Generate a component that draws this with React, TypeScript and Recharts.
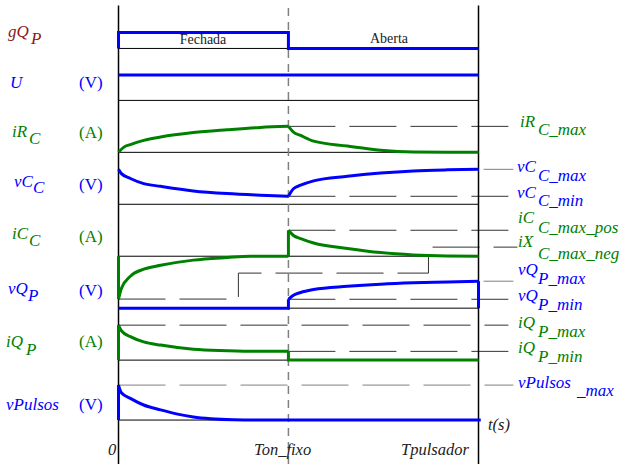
import { ComposedChart, Line, XAxis, YAxis } from "recharts"

// time in units of Tpulsador
const T_ON = 0.472
const T_REF_END = 1.083
const T_SHORT_START = 1.014
const T_SHORT_END = 1.097

// gQP (1 = closed)
const gqpT = [0, 0, T_ON, T_ON, 1]
const gqpV = [0, 1, 1, 0, 0]

const uT = [0, 1]
const uV = [1, 1]

// iRC, fraction of iRC_max
const irOnT = [0, 0.015, 0.033, 0.07, 0.117, 0.208, 0.302, 0.394, T_ON]
const irOnV = [0, 0.2, 0.3, 0.46, 0.59, 0.76, 0.87, 0.96, 1]
const irOffT = [T_ON, 0.486, 0.506, 0.542, 0.636, 0.728, 0.819, 0.914, 1]
const irOffV = [1, 0.78, 0.65, 0.43, 0.24, 0.08, 0.01, 0, 0]

// vCC, 0 = vC_min, 1 = vC_max
const vcOnT = [0, 0.008, 0.033, 0.07, 0.117, 0.208, 0.302, 0.394, T_ON]
const vcOnV = [1, 0.84, 0.66, 0.47, 0.37, 0.2, 0.1, 0.04, 0]
const vcOffT = [T_ON, 0.486, 0.506, 0.542, 0.636, 0.728, 0.819, 0.914, 1]
const vcOffV = [0, 0.28, 0.41, 0.57, 0.74, 0.86, 0.94, 0.98, 1]

// iCC, fraction of iC_max_pos
const icNegT = [0, 0.008, 0.033, 0.07, 0.117, 0.208, 0.302, 0.366, T_ON]
const icNegV = [-1.65, -1.24, -0.77, -0.5, -0.35, -0.15, -0.05, 0, 0]
const icPosT = [T_ON, 0.486, 0.506, 0.542, 0.636, 0.728, 0.819, 0.914, 1]
const icPosV = [1, 0.8, 0.68, 0.51, 0.3, 0.14, 0.05, 0.01, 0]
const icJump0T = [0, 0]
const icJump0V = [0, -1.65]
const icJumpOnT = [T_ON, T_ON]
const icJumpOnV = [0, 1]
// iX_C_max_neg reference step
const ixT = [0, 0.333, 0.333, 0.861, 0.861, 1.108]
const ixV = [-1.65, -1.65, -0.65, -0.65, 0.35, 0.35]

// vQP, fraction of vQP_max
const vqOffT = [0, T_ON, T_ON]
const vqOffV = [0, 0, 0.33]
const vqOnT = [T_ON, 0.486, 0.506, 0.542, 0.636, 0.728, 0.819, 0.914, 1]
const vqOnV = [0.33, 0.48, 0.58, 0.69, 0.81, 0.89, 0.94, 0.97, 1]
const vqEndT = [1, 1]
const vqEndV = [1, 0]

// iQP, fraction of iQP_max
const iqJumpT = [0, 0]
const iqJumpV = [0, 1]
const iqOnT = [0, 0.008, 0.033, 0.07, 0.117, 0.208, 0.302, 0.394, T_ON]
const iqOnV = [1, 0.84, 0.67, 0.52, 0.43, 0.31, 0.27, 0.25, 0.25]
const iqOffT = [T_ON, T_ON, 1]
const iqOffV = [0.25, 0, 0]

// vPulsos, fraction of vPulsos_max
const vpJumpT = [0, 0]
const vpJumpV = [0, 1]
const vpT = [0, 0.008, 0.033, 0.07, 0.117, 0.164, 0.208, 0.256, 0.319, 0.4, 1.006]
const vpV = [1, 0.78, 0.62, 0.43, 0.29, 0.17, 0.09, 0.04, 0.01, 0, 0]

const W = 621
const H = 464

// panel rows: baseline and height of value 1
const P = {
  gqp: { base: 48, amp: 16 },
  u: { base: 100, amp: 25.5 },
  ir: { base: 152, amp: 26 },
  vc: { base: 196, amp: 27 },
  vcDiv: { base: 204, amp: 0 },
  ic: { base: 256, amp: 26 },
  vq: { base: 308, amp: 27 },
  iq: { base: 360, amp: 35 },
  vp: { base: 420, amp: 35 },
  full: { base: 464, amp: 459 },
}

type Panel = { base: number; amp: number }
const pts = (p: Panel, ts: number[], vs: number[]) =>
  ts.map((t, i) => ({ t, y: p.base - vs[i] * p.amp }))

const BLUE = "#0000ff"
const GREEN = "#008000"
const DARK = "#333"
const GREY = "#808080"
const DASH = "47 14"

type Spec = {
  d: { t: number; y: number }[]
  c: string
  w: number
  dash?: string
  curve?: boolean
}

const guides: Spec[] = [
  // baselines
  { d: pts(P.gqp, [0, T_ON], [0, 0]), c: "#000", w: 1 },
  { d: pts(P.u, [0, 1], [0, 0]), c: "#000", w: 1 },
  { d: pts(P.ir, [0, 1], [0, 0]), c: "#000", w: 1 },
  { d: pts(P.vcDiv, [0, 1], [0, 0]), c: "#000", w: 1 },
  { d: pts(P.ic, [0, 1], [0, 0]), c: "#000", w: 1 },
  { d: pts(P.vq, [0, 1], [0, 0]), c: "#000", w: 1 },
  { d: pts(P.iq, [0, 1], [0, 0]), c: "#000", w: 1 },
  { d: pts(P.vp, [0, 1.006], [0, 0]), c: "#000", w: 1 },
  // reference levels
  { d: pts(P.ir, [T_ON, T_REF_END], [1, 1]), c: DARK, w: 1, dash: DASH },
  { d: pts(P.vc, [T_SHORT_START, T_SHORT_END], [1, 1]), c: GREY, w: 1 },
  { d: pts(P.vc, [T_ON, T_REF_END], [0, 0]), c: DARK, w: 1, dash: DASH },
  { d: pts(P.ic, [T_ON, T_REF_END], [1, 1]), c: DARK, w: 1, dash: DASH },
  { d: pts(P.ic, ixT, ixV), c: DARK, w: 1, dash: DASH },
  { d: pts(P.vq, [T_SHORT_START, T_SHORT_END], [1, 1]), c: GREY, w: 1 },
  { d: pts(P.vq, [T_ON, T_REF_END], [0.33, 0.33]), c: DARK, w: 1, dash: DASH },
  { d: pts(P.iq, [0, T_REF_END], [1, 1]), c: DARK, w: 1, dash: DASH },
  { d: pts(P.iq, [T_ON, T_REF_END], [0.25, 0.25]), c: DARK, w: 1, dash: DASH },
  { d: pts(P.vp, [0, T_SHORT_END], [1, 1]), c: GREY, w: 1, dash: DASH },
  // time axis markers
  { d: pts(P.full, [T_ON, T_ON], [0, 1]), c: GREY, w: 1.5, dash: "8 6" },
  { d: pts(P.full, [0, 0], [0, 1]), c: "#000", w: 1.5 },
  { d: pts(P.full, [1, 1], [0, 1]), c: "#000", w: 1.5 },
]

const signals: Spec[] = [
  { d: pts(P.gqp, gqpT, gqpV), c: BLUE, w: 3 },
  { d: pts(P.u, uT, uV), c: BLUE, w: 3 },
  { d: pts(P.ir, irOnT, irOnV), c: GREEN, w: 3, curve: true },
  { d: pts(P.ir, irOffT, irOffV), c: GREEN, w: 3, curve: true },
  { d: pts(P.vc, vcOnT, vcOnV), c: BLUE, w: 3, curve: true },
  { d: pts(P.vc, vcOffT, vcOffV), c: BLUE, w: 3, curve: true },
  { d: pts(P.ic, icJump0T, icJump0V), c: GREEN, w: 3 },
  { d: pts(P.ic, icNegT, icNegV), c: GREEN, w: 3, curve: true },
  { d: pts(P.ic, icJumpOnT, icJumpOnV), c: GREEN, w: 3 },
  { d: pts(P.ic, icPosT, icPosV), c: GREEN, w: 3, curve: true },
  { d: pts(P.vq, vqOffT, vqOffV), c: BLUE, w: 3 },
  { d: pts(P.vq, vqOnT, vqOnV), c: BLUE, w: 3, curve: true },
  { d: pts(P.vq, vqEndT, vqEndV), c: BLUE, w: 3 },
  { d: pts(P.iq, iqJumpT, iqJumpV), c: GREEN, w: 3 },
  { d: pts(P.iq, iqOnT, iqOnV), c: GREEN, w: 3, curve: true },
  { d: pts(P.iq, iqOffT, iqOffV), c: GREEN, w: 3 },
  { d: pts(P.vp, vpJumpT, vpJumpV), c: BLUE, w: 3 },
  { d: pts(P.vp, vpT, vpV), c: BLUE, w: 3, curve: true },
]

type Lbl = { x: number; y: number; s: string; c: string; it?: boolean; size?: number; anchor?: "start" | "middle" }

const RED = "#8b1a1a"
const TXT = "#222"

const labels: Lbl[] = [
  // left names
  { x: 8, y: 37, s: "gQ", c: RED, it: true },
  { x: 31, y: 44, s: "P", c: RED, it: true },
  { x: 10, y: 88, s: "U", c: BLUE, it: true },
  { x: 12, y: 137, s: "iR", c: GREEN, it: true },
  { x: 29, y: 144, s: "C", c: GREEN, it: true },
  { x: 14, y: 187, s: "vC", c: BLUE, it: true },
  { x: 33, y: 193, s: "C", c: BLUE, it: true },
  { x: 12, y: 239, s: "iC", c: GREEN, it: true },
  { x: 29, y: 246, s: "C", c: GREEN, it: true },
  { x: 8, y: 294, s: "vQ", c: BLUE, it: true },
  { x: 28, y: 301, s: "P", c: BLUE, it: true },
  { x: 6, y: 347, s: "iQ", c: GREEN, it: true },
  { x: 26, y: 355, s: "P", c: GREEN, it: true },
  { x: 6, y: 410, s: "vPulsos", c: BLUE, it: true },
  // units
  { x: 79, y: 88, s: "(V)", c: BLUE },
  { x: 79, y: 138, s: "(A)", c: GREEN },
  { x: 79, y: 190, s: "(V)", c: BLUE },
  { x: 79, y: 242, s: "(A)", c: GREEN },
  { x: 79, y: 296, s: "(V)", c: BLUE },
  { x: 79, y: 347, s: "(A)", c: GREEN },
  { x: 79, y: 410, s: "(V)", c: BLUE },
  // right names
  { x: 520, y: 127, s: "iR", c: GREEN, it: true },
  { x: 538, y: 135, s: "C_max", c: GREEN, it: true },
  { x: 517, y: 172, s: "vC", c: BLUE, it: true },
  { x: 538, y: 181, s: "C_max", c: BLUE, it: true },
  { x: 517, y: 198, s: "vC", c: BLUE, it: true },
  { x: 538, y: 206, s: "C_min", c: BLUE, it: true },
  { x: 518, y: 223, s: "iC", c: GREEN, it: true },
  { x: 538, y: 233, s: "C_max_pos", c: GREEN, it: true },
  { x: 518, y: 247, s: "iX", c: GREEN, it: true },
  { x: 538, y: 259, s: "C_max_neg", c: GREEN, it: true },
  { x: 518, y: 275, s: "vQ", c: BLUE, it: true },
  { x: 538, y: 284, s: "P_max", c: BLUE, it: true },
  { x: 518, y: 301, s: "vQ", c: BLUE, it: true },
  { x: 538, y: 310, s: "P_min", c: BLUE, it: true },
  { x: 518, y: 328, s: "iQ", c: GREEN, it: true },
  { x: 538, y: 337, s: "P_max", c: GREEN, it: true },
  { x: 518, y: 353, s: "iQ", c: GREEN, it: true },
  { x: 538, y: 362, s: "P_min", c: GREEN, it: true },
  { x: 518, y: 388, s: "vPulsos", c: BLUE, it: true },
  { x: 577, y: 396, s: "_max", c: BLUE, it: true },
  // time axis
  { x: 488, y: 430, s: "t(s)", c: TXT, it: true, size: 16.5 },
  { x: 108, y: 455, s: "0", c: TXT, it: true, size: 16.5 },
  { x: 254, y: 455, s: "Ton_fixo", c: TXT, it: true, size: 16.5 },
  { x: 401, y: 455, s: "Tpulsador", c: TXT, it: true, size: 16.5 },
  // switch state
  { x: 203, y: 44, s: "Fechada", c: TXT, size: 14, anchor: "middle" },
  { x: 389, y: 43, s: "Aberta", c: TXT, size: 14, anchor: "middle" },
]

export default function App() {
  return (
    <div style={{ position: "absolute", left: 0, top: 0, width: W, height: H, background: "#fff" }}>
      {/* half-pixel offsets keep the thin rules crisp */}
      <ComposedChart width={W} height={H} margin={{ top: 0, right: 16.5, bottom: 0, left: 118.5 }}>
        <XAxis type="number" dataKey="t" domain={[0, 1.35]} hide />
        <YAxis type="number" dataKey="y" domain={[-0.5, H - 0.5]} reversed hide />
        {[...guides, ...signals].map((s, i) => (
          <Line
            key={i}
            data={s.d}
            dataKey="y"
            type={s.curve ? "monotone" : "linear"}
            stroke={s.c}
            strokeWidth={s.w}
            strokeDasharray={s.dash}
            dot={false}
            activeDot={false}
            isAnimationActive={false}
          />
        ))}
      </ComposedChart>
      <svg
        width={W}
        height={H}
        style={{ position: "absolute", left: 0, top: 0, pointerEvents: "none" }}
        fontFamily="'Liberation Serif', 'Times New Roman', serif"
      >
        {labels.map((l, i) => (
          <text
            key={i}
            x={l.x}
            y={l.y}
            fill={l.c}
            fontSize={l.size ?? 17}
            fontStyle={l.it ? "italic" : "normal"}
            textAnchor={l.anchor ?? "start"}
          >
            {l.s}
          </text>
        ))}
      </svg>
    </div>
  )
}
